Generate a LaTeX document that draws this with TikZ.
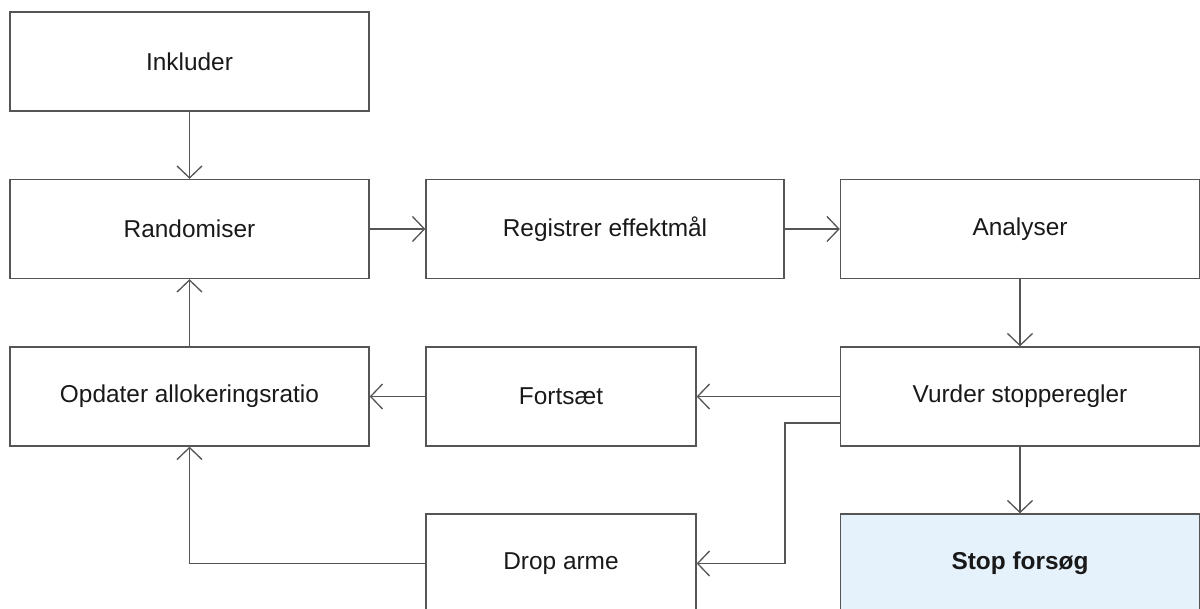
\documentclass[tikz,border=0pt]{standalone}
\usepackage{fontspec}
\setmainfont{Liberation Sans}
\usetikzlibrary{arrows.meta}
\definecolor{linegray}{HTML}{555555}
\definecolor{stopblue}{HTML}{E6F2FB}
\tikzset{
  box/.style={draw=linegray, line width=0.65pt, fill=white, text=black!90,
    minimum height=49.5pt, font=\fontsize{12.2}{14}\selectfont, inner sep=0pt},
  wide/.style={box, minimum width=179.5pt},
  narrow/.style={box, minimum width=135pt},
  flow/.style={draw=linegray, line width=0.65pt,
    -{Straight Barb[length=6pt, width=12.5pt, line width=0.65pt]}}
}
\begin{document}
\begin{tikzpicture}[x=0.5pt, y=-0.5pt]
      \clip (0,0) rectangle (1200,609);
      \draw
        (189.5,61.5) node[wide] (incl){Inkluder}
        (189.5,229) node[wide] (rand){Randomiser}
        (605,229) node[wide, minimum width=179pt] (reg){Registrer effektmål}
        (1020,229) node[wide] (ana){Analyser}
        (189.5,396.5) node[wide] (opd){Opdater allokeringsratio}
        (561,396.5) node[narrow] (fort){Fortsæt}
        (1020,396.5) node[wide] (vurd){Vurder stopperegler}
        (561,563.5) node[narrow] (drop){Drop arme}
        (1020,563.5) node[wide, fill=stopblue, font=\fontsize{12.2}{14}\selectfont\bfseries] (stop){Stop forsøg};
      \begin{scope}[flow]
        \draw (incl) to (rand);
        \draw (rand) to (reg);
        \draw (reg) to (ana);
        \draw (ana) to (vurd);
        \draw (vurd) to (fort);
        \draw (fort) to (opd);
        \draw (opd) to (rand);
        \draw (vurd) to (stop);
        \draw ([yshift=-13.25pt]vurd.west) -- ++(-55,0) |- (drop.east);
        \draw (drop.west) -| (opd.south);
      \end{scope}
    \end{tikzpicture}
\end{document}
